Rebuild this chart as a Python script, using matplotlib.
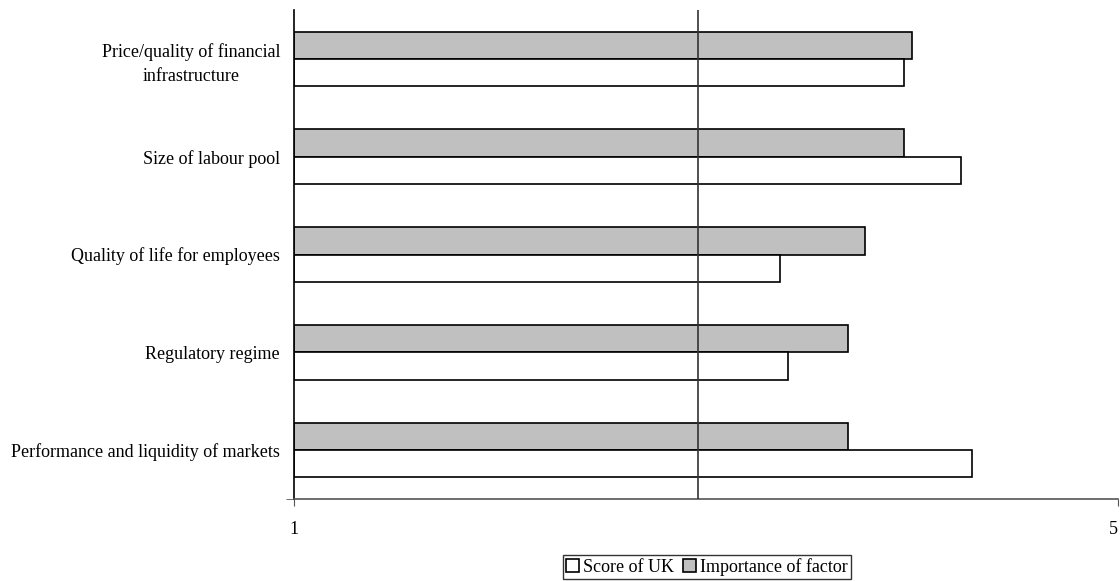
import numpy as np
import matplotlib.pyplot as plt
from matplotlib.ticker import FixedLocator

plt.rcParams['font.family'] = ['Liberation Serif', 'DejaVu Serif']

# Các yếu tố cạnh tranh (từ trên xuống dưới)
factors = ['Price/quality of financial\ninfrastructure',
           'Size of labour pool',
           'Quality of life for employees',
           'Regulatory regime',
           'Performance and liquidity of markets']
importance = [4.00, 3.96, 3.77, 3.69, 3.69]
score_uk = [3.96, 4.24, 3.36, 3.40, 4.29]
base = 1
ref_line = 2.96

fig = plt.figure(figsize=(11.2, 5.81), dpi=100)
ax = fig.add_axes([294 / 1120, 1 - 499 / 581, 824 / 1120, 489 / 581])

y = np.arange(len(factors))
h = 0.28
vals_imp = np.array(importance) - base
vals_uk = np.array(score_uk) - base
ax.barh(y - h / 2, vals_imp, height=h, left=base, color='#c0c0c0',
        edgecolor='black', linewidth=1.2, label='Importance of factor', zorder=2)
ax.barh(y + h / 2, vals_uk, height=h, left=base, color='white',
        edgecolor='black', linewidth=1.2, label='Score of UK', zorder=2)
ax.axvline(ref_line, color='#333333', linewidth=1.2, zorder=3)

ax.set_xlim(1, 5)
ax.set_ylim(len(factors) - 0.5, -0.5)
ax.set_xticks([1, 5])
ax.set_xticklabels(['1', '5'])
# nhãn "5" nằm sát mép phải, căn phải để không bị cắt
ax.get_xticklabels()[-1].set_horizontalalignment('right')
ax.set_yticks(y)
ax.set_yticklabels(factors, multialignment='center', linespacing=1.55)
ax.yaxis.set_minor_locator(FixedLocator([len(factors) - 0.5]))
ax.tick_params(axis='y', which='major', length=0, pad=10, labelsize=13)
ax.tick_params(axis='y', which='minor', length=6, direction='out', color='#555555')
ax.tick_params(axis='x', length=5, direction='out', pad=11, labelsize=13, color='#555555')

for side in ['top', 'right']:
    ax.spines[side].set_visible(False)
ax.spines['left'].set_color('black')
ax.spines['left'].set_linewidth(1.2)
ax.spines['bottom'].set_color('#555555')
ax.spines['bottom'].set_linewidth(1.2)

handles, labels = ax.get_legend_handles_labels()
leg = fig.legend(handles[::-1], labels[::-1], loc='center', ncol=2,
                 bbox_to_anchor=(707 / 1120, 1 - 567 / 581), frameon=True,
                 fancybox=False, edgecolor='black', fontsize=13,
                 handlelength=0.7, handleheight=0.7, handletextpad=0.25,
                 columnspacing=0.5, borderpad=0.15, borderaxespad=0)
leg.get_frame().set_linewidth(1.0)

fig.savefig('out.png', dpi=100)
